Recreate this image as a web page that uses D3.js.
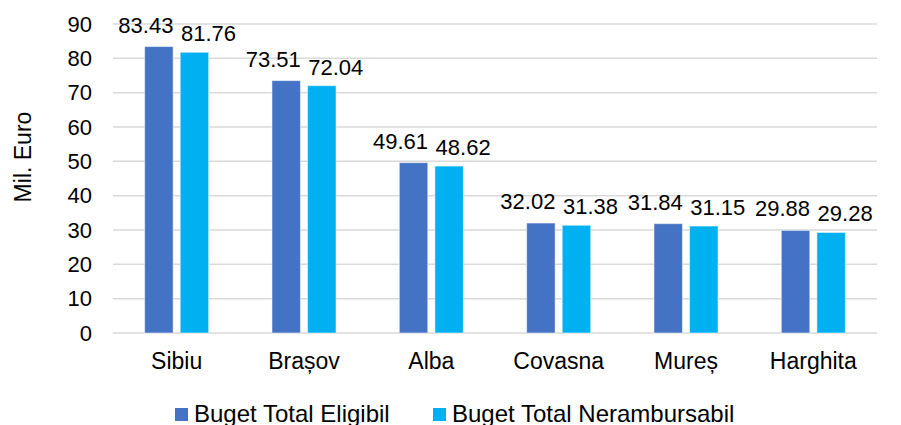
<!DOCTYPE html>
<html>
<head>
<meta charset="utf-8">
<script src="https://cdn.jsdelivr.net/npm/d3@7"></script>
<style>
  body { margin: 0; background: #fff; }
  text { font-family: "Liberation Sans", Arial, sans-serif; fill: #000; }
</style>
</head>
<body>
<div id="chart"></div>
<script>
// data
const counties = ["Sibiu", "Brașov", "Alba", "Covasna", "Mureș", "Harghita"];
const eligibil = [83.43, 73.51, 49.61, 32.02, 31.84, 29.88];
const nerambursabil = [81.76, 72.04, 48.62, 31.38, 31.15, 29.28];
const seriesNames = ["Buget Total Eligibil", "Buget Total Nerambursabil"];
const yTicks = [0, 10, 20, 30, 40, 50, 60, 70, 80, 90];

let width = 901,
  height = 425;

let margin = { top: 24, right: 24, bottom: 92, left: 113 };

let svg = d3.select("#chart")
  .append("svg")
  .attr("width", width)
  .attr("height", height);

let colors = d3.scaleOrdinal()
  .domain(seriesNames)
  .range(["#4472C4", "#00B0F0"]);

let x0 = d3.scaleBand()
  .domain(counties)
  .range([margin.left, width - margin.right])
  .padding(0);

let x1 = d3.scaleBand()
  .domain(seriesNames)
  .range([0, x0.bandwidth()])
  .paddingInner(0.2)
  .paddingOuter(0.89);

let y = d3.scaleLinear()
  .domain([0, 90])
  .range([height - margin.bottom, margin.top]);

// gridlines
svg.append("g")
  .selectAll("line")
  .data(yTicks)
  .join("line")
  .attr("x1", margin.left)
  .attr("x2", width - margin.right)
  .attr("y1", d => y(d))
  .attr("y2", d => y(d))
  .attr("stroke", "#d9d9d9")
  .attr("stroke-width", 1.5);

// y axis labels
let yAxis = svg.append("g")
  .attr("transform", `translate(${margin.left},0)`)
  .call(d3.axisLeft(y).tickValues(yTicks).tickSize(0).tickPadding(21));
yAxis.select(".domain").remove();
yAxis.selectAll("text")
  .style("font-size", "22px")
  .attr("fill", "#000");

// x axis labels
let xAxis = svg.append("g")
  .attr("transform", `translate(0,${y(0)})`)
  .call(d3.axisBottom(x0).tickSize(0).tickPadding(20));
xAxis.select(".domain").remove();
xAxis.selectAll("text")
  .style("font-size", "23px")
  .attr("fill", "#000");

// y title
svg.append("text")
  .attr("transform", "translate(31,157) rotate(-90)")
  .attr("text-anchor", "middle")
  .style("font-size", "23px")
  .text("Mil. Euro");

let rows = counties.map((c, i) => ({
  county: c,
  values: [
    { key: seriesNames[0], value: eligibil[i] },
    { key: seriesNames[1], value: nerambursabil[i] }
  ]
}));

let groups = svg.append("g")
  .selectAll("g")
  .data(rows)
  .join("g")
  .attr("transform", d => `translate(${x0(d.county)},0)`);

groups.selectAll("rect")
  .data(d => d.values)
  .join("rect")
  .attr("x", d => x1(d.key))
  .attr("y", d => y(d.value))
  .attr("width", x1.bandwidth())
  .attr("height", d => y(0) - y(d.value))
  .attr("fill", d => colors(d.key))
  .attr("stroke", "#ffffff")
  .attr("stroke-opacity", 0.5)
  .attr("stroke-width", 1);

// data labels, nudged apart like the original
groups.selectAll("text.val")
  .data(d => d.values)
  .join("text")
  .attr("class", "val")
  .attr("x", (d, i) => x1(d.key) + x1.bandwidth() / 2 + (i === 0 ? -13 : 14))
  .attr("y", (d, i) => y(d.value) - (i === 0 ? 14 : 11))
  .attr("text-anchor", "middle")
  .style("font-size", "22px")
  .text(d => d.value.toFixed(2));

// legend
let legend = svg.append("g")
  .attr("transform", "translate(175,408)");

let legendX = [0, 258];

legend.selectAll("rect")
  .data(seriesNames)
  .join("rect")
  .attr("x", (d, i) => legendX[i])
  .attr("y", 0)
  .attr("width", 13)
  .attr("height", 13)
  .attr("fill", d => colors(d));

legend.selectAll("text")
  .data(seriesNames)
  .join("text")
  .attr("x", (d, i) => legendX[i] + 19)
  .attr("y", 14)
  .style("font-size", "24px")
  .text(d => d);
</script>
</body>
</html>
